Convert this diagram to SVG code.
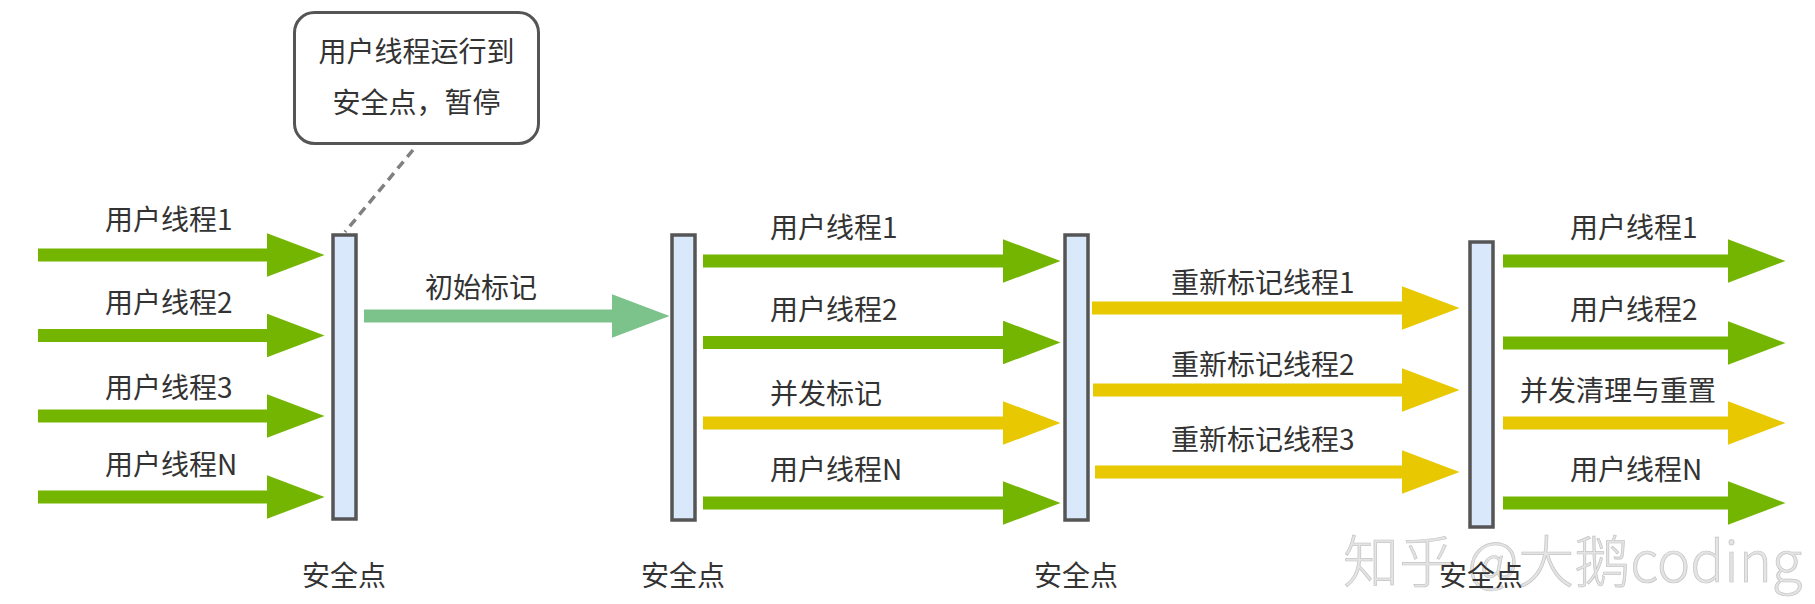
<svg xmlns="http://www.w3.org/2000/svg" width="1815" height="604" viewBox="0 0 1815 604">
<style>
text{font-family:"Noto Sans CJK SC","Noto Sans",sans-serif;font-size:28px;fill:#333}
.mid{text-anchor:middle}
.bar{fill:#dae8fc;stroke:#555;stroke-width:3.5}
.g{stroke:#73b500;stroke-width:13;fill:none}
.y{stroke:#e8c800;stroke-width:13;fill:none}
.lg{stroke:#7cc38b;stroke-width:13;fill:none}
.wm{font-size:56px;font-weight:300;fill:#e4e4e4;stroke:#c4c4c4;stroke-width:0.7}
</style>
<defs>
<marker id="hg" markerUnits="userSpaceOnUse" markerWidth="58" markerHeight="44" viewBox="0 0 58 44" refX="0.5" refY="22" orient="auto"><path d="M0,0 L58,22 L0,44 z" fill="#73b500"/></marker>
<marker id="hy" markerUnits="userSpaceOnUse" markerWidth="58" markerHeight="44" viewBox="0 0 58 44" refX="0.5" refY="22" orient="auto"><path d="M0,0 L58,22 L0,44 z" fill="#e8c800"/></marker>
<marker id="hl" markerUnits="userSpaceOnUse" markerWidth="58" markerHeight="44" viewBox="0 0 58 44" refX="0.5" refY="22" orient="auto"><path d="M0,0 L58,22 L0,44 z" fill="#7cc38b"/></marker>
</defs>
<rect width="1815" height="604" fill="#fff"/>

<g id="watermark">
<text class="wm" x="1343" y="582">知乎 @大鹅coding</text>
</g>

<g id="connectors">
<line x1="413" y1="150" x2="345" y2="232" stroke="#808080" stroke-width="3.5" stroke-dasharray="9 6"/>
<line class="g" x1="38" y1="255" x2="267" y2="255" marker-end="url(#hg)"/>
<line class="g" x1="38" y1="335.5" x2="267" y2="335.5" marker-end="url(#hg)"/>
<line class="g" x1="38" y1="416" x2="267" y2="416" marker-end="url(#hg)"/>
<line class="g" x1="38" y1="497" x2="267" y2="497" marker-end="url(#hg)"/>
<line class="lg" x1="364" y1="316" x2="612" y2="316" marker-end="url(#hl)"/>
<line class="g" x1="703" y1="261" x2="1003" y2="261" marker-end="url(#hg)"/>
<line class="g" x1="703" y1="342.5" x2="1003" y2="342.5" marker-end="url(#hg)"/>
<line class="y" x1="703" y1="423" x2="1003" y2="423" marker-end="url(#hy)"/>
<line class="g" x1="703" y1="503" x2="1003" y2="503" marker-end="url(#hg)"/>
<line class="y" x1="1092" y1="308" x2="1402" y2="308" marker-end="url(#hy)"/>
<line class="y" x1="1093" y1="390" x2="1402" y2="390" marker-end="url(#hy)"/>
<line class="y" x1="1095" y1="472" x2="1402" y2="472" marker-end="url(#hy)"/>
<line class="g" x1="1503" y1="261" x2="1728" y2="261" marker-end="url(#hg)"/>
<line class="g" x1="1503" y1="343" x2="1728" y2="343" marker-end="url(#hg)"/>
<line class="y" x1="1503" y1="423" x2="1728" y2="423" marker-end="url(#hy)"/>
<line class="g" x1="1503" y1="503" x2="1728" y2="503" marker-end="url(#hg)"/>
</g>

<g id="labels">
<text x="105" y="230">用户线程1</text>
<text x="105" y="313">用户线程2</text>
<text x="105" y="398">用户线程3</text>
<text x="105" y="475">用户线程N</text>
<text x="425" y="298">初始标记</text>
<text x="770" y="238">用户线程1</text>
<text x="770" y="320">用户线程2</text>
<text x="770" y="404">并发标记</text>
<text x="770" y="480">用户线程N</text>
<text x="1171" y="293">重新标记线程1</text>
<text x="1171" y="375">重新标记线程2</text>
<text x="1171" y="450">重新标记线程3</text>
<text x="1570" y="238">用户线程1</text>
<text x="1570" y="320">用户线程2</text>
<text x="1520" y="401">并发清理与重置</text>
<text x="1570" y="480">用户线程N</text>
</g>

<g id="callout">
<rect x="294.5" y="12.5" width="244" height="131" rx="20" fill="#fff" stroke="#555" stroke-width="3"/>
<text class="mid" x="416.5" y="62">用户线程运行到</text>
<text class="mid" x="416.5" y="113">安全点，暂停</text>
</g>

<g id="safepoint1">
<rect class="bar" x="333" y="235" width="23" height="284"/>
<text class="mid" x="344" y="586">安全点</text>
</g>
<g id="safepoint2">
<rect class="bar" x="672" y="235" width="23" height="285"/>
<text class="mid" x="683" y="586">安全点</text>
</g>
<g id="safepoint3">
<rect class="bar" x="1065" y="235" width="23" height="285"/>
<text class="mid" x="1076" y="586">安全点</text>
</g>
<g id="safepoint4">
<rect class="bar" x="1470" y="242" width="23" height="285"/>
<text class="mid" x="1481" y="586">安全点</text>
</g>
</svg>
